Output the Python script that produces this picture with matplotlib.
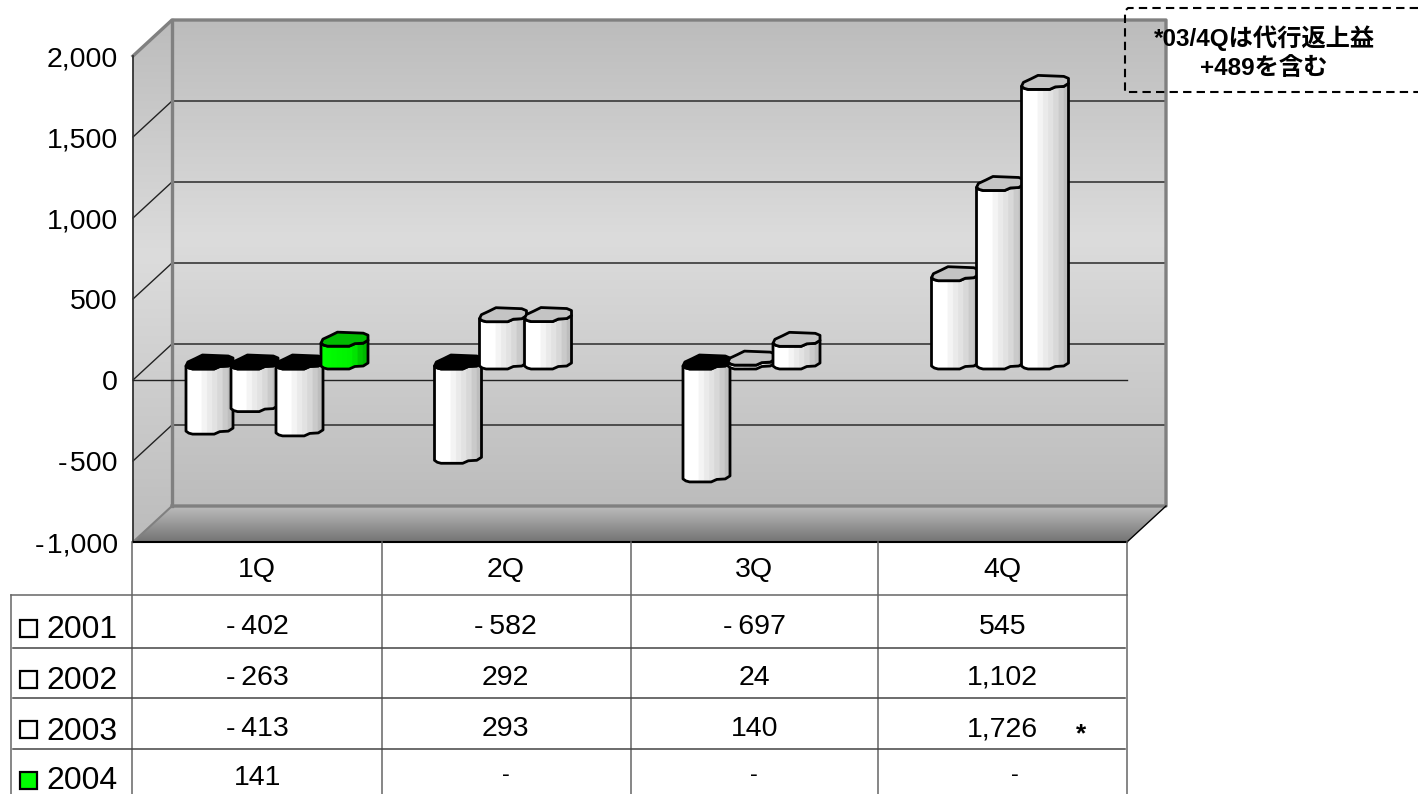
import matplotlib
matplotlib.use("Agg")
import matplotlib.pyplot as plt
import numpy as np
from matplotlib.colors import LinearSegmentedColormap
from matplotlib.patches import Polygon, Rectangle
from matplotlib.transforms import blended_transform_factory

plt.rcParams['font.family'] = ['Liberation Sans', 'Noto Sans CJK JP', 'DejaVu Sans']

categories = ["1Q", "2Q", "3Q", "4Q"]
years = ["2001", "2002", "2003", "2004"]
v2001 = [-402, -582, -697, 545]
v2002 = [-263, 292, 24, 1102]
v2003 = [-413, 293, 140, 1726]
v2004 = [141, None, None, None]
series = [v2001, v2002, v2003, v2004]
yticks = [-1000, -500, 0, 500, 1000, 1500, 2000]
note = "*03/4Qは代行返上益\n+489を含む"

W, H = 1418, 794
fig = plt.figure(figsize=(W / 100, H / 100), dpi=100)

# overlay in pixels for table and frame, main axes holds the chart
ov = fig.add_axes([0, 0, 1, 1], zorder=3)
ov.set_xlim(0, W)
ov.set_ylim(H, 0)
ov.axis("off")
ov.patch.set_alpha(0)

ax = fig.add_axes([133 / W, 1 - 542 / H, 994 / W, 486 / H], zorder=2)
ax.set_xlim(0, 4)
ax.set_ylim(-1000, 2000)
ax.patch.set_alpha(0)
for s in ax.spines.values():
    s.set_visible(False)

PX_X = 4 / 994
PX_Y = 3000 / 486
DX = 39 * PX_X
DY = 36 * PX_Y


def fmt(v, gap="\u2009"):
    return format(v, ",").replace("-", "-" + gap)


def grad(stops, vertical=True, n=256):
    cm = LinearSegmentedColormap.from_list("g", stops, N=n)
    g = np.linspace(0, 1, 256)
    return cm(g[:, None]) if vertical else cm(g[None, :])


def clip_to(im, pts):
    im.set_clip_on(True)
    im.set_clip_box(fig.bbox)
    im.set_clip_path(Polygon(pts, transform=ax.transData))


# walls
wall_stops = [(0, "#bcbcbc"), (0.45, "#dcdcdc"), (1, "#bcbcbc")]
ax.imshow(grad(wall_stops), extent=[DX, 4 + DX, -1000 + DY, 2000 + DY], aspect="auto", zorder=1, clip_on=False)
left = ax.imshow(grad(wall_stops), extent=[0, DX, -1000, 2000 + DY], aspect="auto", zorder=1)
clip_to(left, [(0, -1000), (DX, -1000 + DY), (DX, 2000 + DY), (0, 2000)])
floor = ax.imshow(grad([(0, "#bcbcbc"), (1, "#747474")]),
                  extent=[0, 4 + DX, -1000, -1000 + DY], aspect="auto", zorder=1)
clip_to(floor, [(0, -1000), (4, -1000), (4 + DX, -1000 + DY), (DX, -1000 + DY)])
ax.set_xlim(0, 4)
ax.set_ylim(-1000, 2000)

for t in yticks[1:-1]:
    ax.plot([DX, 4 + DX], [t + DY, t + DY], color="#444444", lw=1.3, zorder=2, clip_on=False)
    ax.plot([0, DX], [t, t + DY], color="#222222", lw=1, zorder=2, clip_on=False)
frame = "#808080"
ax.plot([DX, DX], [-1000 + DY, 2000 + DY], color=frame, lw=2.4, zorder=2, clip_on=False)
ax.plot([0, DX, 4 + DX, 4 + DX, DX], [2000, 2000 + DY, 2000 + DY, -1000 + DY, -1000 + DY],
        color=frame, lw=2.4, zorder=2, clip_on=False)
ax.plot([0, DX], [-1000, -1000 + DY], color=frame, lw=1.5, zorder=2, clip_on=False)
ax.plot([4, 4 + DX], [-1000, -1000 + DY], color="black", lw=1, zorder=2, clip_on=False)
ax.plot([0, 0], [-1000, 2000], color="#333333", lw=1.3, zorder=2, clip_on=False)
ax.plot([0, 4], [0, 0], color="#222222", lw=1, zorder=2, clip_on=False)
ax.plot([0, 4], [-1000, -1000], color="black", lw=1.5, zorder=2, clip_on=False)

ax.set_xticks([])
ax.set_yticks(yticks, [fmt(t, "\u200a") for t in yticks], fontsize=20.5)
ax.tick_params(axis="y", length=0, pad=11)

# bars, octagon prisms
BAR_W = 47 * PX_X
BASE = 11 * PX_Y
START = 53 * PX_X
STEP = 45 * PX_X
front = np.array([(0, 3), (0.06, 1), (0.14, 0), (0.6, 0), (0.72, 2.5), (0.9, 3), (1, 6)], float)
back = np.array([(1, 11), (0.9, 13), (0.35, 14), (0.2, 10.5), (0.04, 7)], float)
top_pts = np.vstack([front, back])
white = [(0, "#ffffff"), (0.25, "#ffffff"), (0.45, "#eeeeee"), (0.7, "#dedede"), (1, "#bdbdbd")]
green = [(0, "#00ff00"), (0.7, "#00f000"), (0.85, "#00cc00"), (1, "#00b800")]


def shape(x, level, pts):
    return np.column_stack([x + pts[:, 0] * BAR_W, level + pts[:, 1] * PX_Y])


z = 5
for i, vals in enumerate(series):
    for c, v in enumerate(vals):
        if v is None:
            continue
        x = c + START + i * STEP
        low, high = min(v, 0) + BASE, max(v, 0) + BASE
        body = np.vstack([shape(x, low, front), shape(x, high, front[::-1])])
        colors = green if years[i] == "2004" else white
        im = ax.imshow(grad(colors, vertical=False, n=9), extent=[x, x + BAR_W, low, high + 14 * PX_Y],
                       aspect="auto", zorder=z)
        clip_to(im, body)
        ax.add_patch(Polygon(body, closed=True, fc="none", ec="black", lw=2, zorder=z + 1,
                             clip_on=False, joinstyle="round"))
        cap = "black" if v < 0 else ("#00bb00" if years[i] == "2004" else "#c4c4c4")
        ax.add_patch(Polygon(shape(x, high, top_pts), closed=True, fc=cap, ec="black", lw=2,
                             zorder=z + 2, clip_on=False, joinstyle="round"))
        z += 3
ax.set_xlim(0, 4)
ax.set_ylim(-1000, 2000)

# table under the chart
cols = [132, 382, 631, 878, 1127]
rows = [595, 648, 698, 749]
text_y = [627, 678, 729, 778]
square_y = [628, 679, 729, 780]
line = "#444444"
for x in cols:
    ov.plot([x, x], [542, H], color="#666666", lw=1.1)
ov.plot([11, 11], [595, H], color="#666666", lw=1.1)
ov.plot([11, 1127], [595, 595], color="#666666", lw=1.1)
for y in rows[1:]:
    ov.plot([13, 1125], [y, y], color=line, lw=1.1)

tr = blended_transform_factory(ax.transData, ov.transData)
for c, name in enumerate(categories):
    ax.text(c + 0.5, 570, name, transform=tr, ha="center", va="center", fontsize=20.5, clip_on=False)
for i, vals in enumerate(series):
    fc = "#00ff00" if years[i] == "2004" else "white"
    ov.add_patch(Rectangle((20, square_y[i] - 8), 17, 17, fc=fc, ec="black", lw=1.6))
    ov.text(46, text_y[i] + 3, years[i], ha="left", va="center", fontsize=23)
    for c, v in enumerate(vals):
        if v is None:
            ax.text(c + 0.5 + 0.05 * (c == 3), text_y[i] - 3, "-", transform=tr, ha="center", va="center",
                    fontsize=17, clip_on=False)
        else:
            ax.text(c + 0.5, text_y[i], fmt(v), transform=tr, ha="center", va="center", fontsize=20.5, clip_on=False)
ov.text(1081, 734, "*", ha="center", va="center", fontsize=19, fontweight="bold")

# dashed note
ov.plot([1418, 1128, 1125, 1125, 1418], [8, 8, 11, 92, 92], color="black", lw=1.5, ls=(0, (4, 2.5)), clip_on=False)
ov.text(1264, 53, note, ha="center", va="center", fontsize=17.5, fontweight="bold", linespacing=1.35)

fig.savefig("out.png", dpi=100)
